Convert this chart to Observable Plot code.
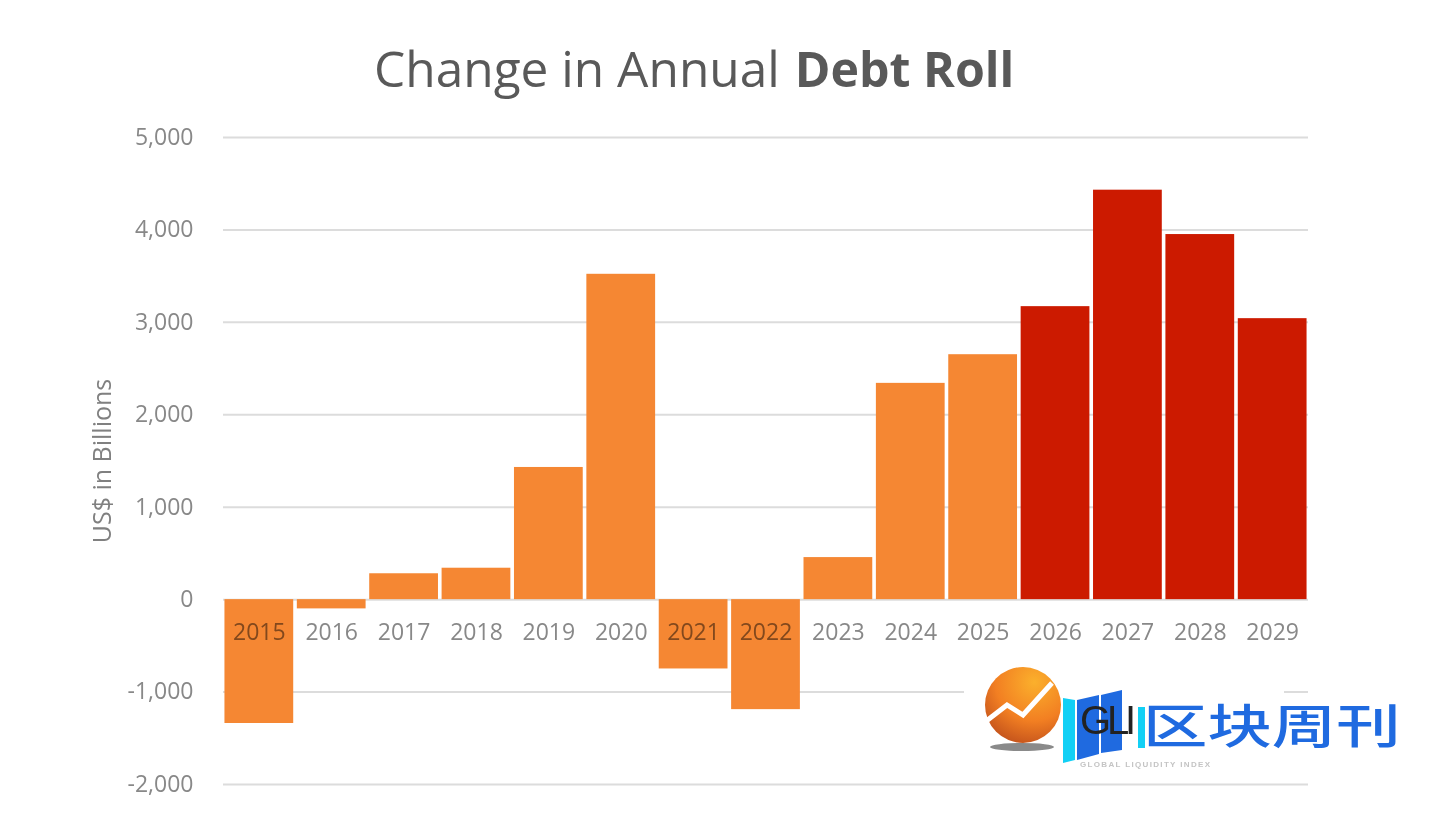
<!DOCTYPE html>
<html>
<head>
<meta charset="utf-8">
<script src="https://cdn.jsdelivr.net/npm/d3@7"></script>
<script src="https://cdn.jsdelivr.net/npm/@observablehq/plot@0.6"></script>
<style>
  body { margin: 0; background: #fff; width: 1430px; height: 815px; overflow: hidden; position: relative; }
  #title {
    height: 110px; box-sizing: border-box; padding: 33px 0 0 374px;
    font: 400 49.6px/70px "Open Sans", sans-serif; color: #595959; white-space: nowrap;
  }
  #title b { font-weight: 700; font-size: 48.3px; margin-left: 2px; }
  #chart svg { display: block; }
  #logo { position: absolute; left: 964px; top: 650px; width: 320px; height: 118px; background: #fff; }
  #logo svg { position: absolute; left: 0; top: 0; }
  #brand {
    position: absolute; left: 179px; top: 48px; white-space: nowrap; transform-origin: left top;
    transform: scaleX(1.37); font: 500 47px/50px "Noto Sans CJK SC", sans-serif; color: #1f6ae0;
  }
</style>
</head>
<body>
<div id="title">Change in Annual <b>Debt Roll</b></div>
<div id="chart"></div>
<div id="logo">
  <svg width="320" height="122" viewBox="0 0 320 122">
    <defs>
      <radialGradient id="ball" cx="0.65" cy="0.2" r="0.85">
        <stop offset="0" stop-color="#fbb02c"/>
        <stop offset="0.6" stop-color="#f27f22"/>
        <stop offset="1" stop-color="#c4531c"/>
      </radialGradient>
    </defs>
    <ellipse cx="58" cy="97" rx="32" ry="4" fill="#8a8a8a"/>
    <circle cx="59" cy="55" r="38" fill="url(#ball)"/>
    <polyline points="21,72 43,55 59,65 88,33" fill="none" stroke="#fff" stroke-width="5"/>
    <polygon points="99,48 111,50 111,110 99,113" fill="#12d0f5"/>
    <polygon points="113,110 113,50 135,45 135,104" fill="#1f6ae0"/>
    <polygon points="137,45 158,40 158,100 137,103" fill="#1f6ae0"/>
    <rect x="174" y="57" width="7" height="41" fill="#12d0f5"/>
    <text x="116" y="84" font-family="Liberation Sans" font-size="40" fill="#222" textLength="56">GLI</text>
    <text x="116" y="117" font-family="Liberation Sans" font-size="8" font-weight="700" fill="#c4c4c4" textLength="130">GLOBAL LIQUIDITY INDEX</text>
  </svg>
  <div id="brand">区块周刊</div>
</div>
<script>
const years = [2015, 2016, 2017, 2018, 2019, 2020, 2021, 2022, 2023, 2024, 2025, 2026, 2027, 2028, 2029];
const rollChange = [-1340, -100, 280, 340, 1430, 3520, -750, -1190, 455, 2340, 2650, 3170, 4430, 3950, 3040];
const yTicks = [-2000, -1000, 0, 1000, 2000, 3000, 4000, 5000];
const redYears = [2026, 2027, 2028, 2029];

const rows = years.map((year, i) => ({year, change: rollChange[i]}));

const chart = Plot.plot({
  width: 1430,
  height: 705,
  marginTop: 27,
  marginBottom: 31,
  marginLeft: 223,
  marginRight: 122,
  style: {background: "#fff", fontFamily: "'Open Sans', sans-serif", fontSize: "23px"},
  x: {type: "band", domain: years, paddingInner: 0.05, paddingOuter: 0.02, round: false, axis: null},
  y: {domain: [-2000, 5000]},
  marks: [
    Plot.ruleY(yTicks, {stroke: "#dcdcdc", strokeWidth: 2}),
    Plot.barY(rows, {
      x: "year",
      y: "change",
      fill: d => redYears.includes(d.year) ? "#cc1a00" : "#f58733"
    }),
    Plot.axisY({
      ticks: yTicks,
      tickSize: 0,
      tickPadding: 30,
      tickFormat: d => d3.format(",")(d).replace("−", "-"),
      color: "#888",
      fontSize: 23,
      label: null
    }),
    Plot.axisY({
      ticks: [],
      tickSize: 0,
      color: "#808080",
      fontSize: 25,
      label: "US$ in Billions",
      labelArrow: "none",
      labelAnchor: "center",
      labelOffset: 130
    }),
    // year labels sit under the zero line, on top of the negative bars
    Plot.text(years, {
      x: d => d,
      y: () => 0,
      dy: 33,
      text: d => String(d),
      fill: "#888",
      mixBlendMode: "multiply",
      fontSize: 23
    })
  ]
});
document.getElementById("chart").append(chart);
</script>
</body>
</html>
